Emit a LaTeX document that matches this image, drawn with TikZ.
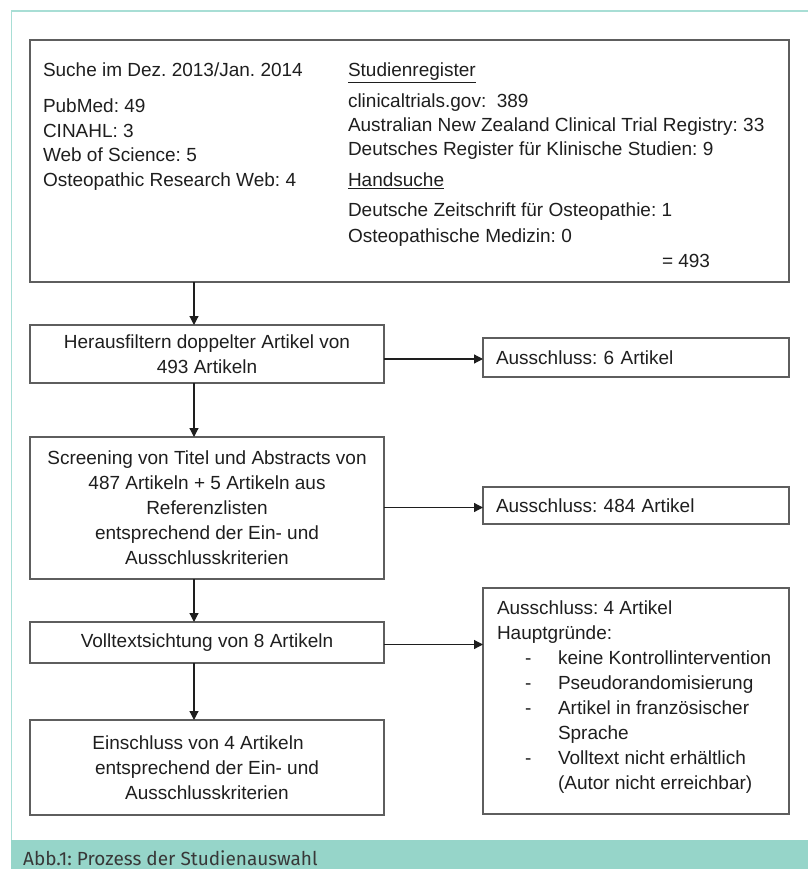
\documentclass[tikz,border=0pt]{standalone}
\usepackage{fontspec}
\setmainfont{Liberation Sans}
\newfontfamily\capfont{Fira Sans}
\usetikzlibrary{arrows.meta}
\definecolor{frameteal}{HTML}{A8DED5}
\definecolor{barteal}{HTML}{96D5C9}
\definecolor{boxgrey}{HTML}{5E5E5E}
\definecolor{txtc}{HTML}{1E1E1E}
\definecolor{captc}{HTML}{383838}
\tikzset{
  box/.style={draw=boxgrey, line width=1.4pt, rectangle, outer sep=0pt, inner sep=0pt,
    anchor=north west, text=txtc, font=\fontsize{19}{25}\selectfont, align=center},
  txt/.style={inner sep=0pt, outer sep=0pt, text=txtc, font=\fontsize{19}{24.5}\selectfont, anchor=base west},
  arr/.style={draw=txtc, line width=1.2pt, -{Triangle[length=9pt,width=9pt]}},
}
\frenchspacing
\begin{document}
\begin{tikzpicture}[x=1pt,y=-1pt]
\useasboundingbox (0,0) rectangle (808,869);
% outer frame and caption bar
\fill[barteal] (11,840) rectangle (808,869);
\draw[frameteal, line width=1.5pt] (808,11) -- (11.5,11) -- (11.5,840);
\node[inner sep=0pt, anchor=base west, text=captc, font=\capfont\fontsize{19}{22}\selectfont] (cap) at (23,865) {Abb.1: Prozess der Studienauswahl};

% search box
\node[box, minimum width=759pt, minimum height=242pt] (search) at (30,40) {};
\node[txt] (s1) at (43,77) {Suche im Dez. 2013/Jan. 2014};
\node[txt] (s2) at (43,112.5) {PubMed: 49};
\node[txt] (s3) at (43,137.2) {CINAHL: 3};
\node[txt] (s4) at (43,161.9) {Web of Science: 5};
\node[txt] (s5) at (43,186.6) {Osteopathic Research Web: 4};
\node[txt] (r1) at (348,77) {\underline{Studienregister}};
\node[txt] (r2) at (348,107.7) {clinicaltrials.gov:\ \ 389};
\node[txt] (r3) at (348,131.7) {Australian New Zealand Clinical Trial Registry: 33};
\node[txt] (r4) at (348,155.7) {Deutsches Register für Klinische Studien: 9};
\node[txt] (r5) at (348,186.7) {\underline{Handsuche}};
\node[txt] (r6) at (348,216.7) {Deutsche Zeitschrift für Osteopathie: 1};
\node[txt] (r7) at (348,242.3) {Osteopathische Medizin: 0};
\node[txt] (r8) at (662,267.3) {= 493};

% flow boxes
\node[box, minimum width=354pt, minimum height=58pt] (dup) at (30,325)
  {Herausfiltern doppelter Artikel von\\493 Artikeln};
\node[box, minimum width=306pt, minimum height=39pt, text width=280pt, align=left] (ex1) at (483,338)
  {Ausschluss: 6 Artikel};
\node[box, minimum width=354pt, minimum height=142pt] (screen) at (30,437)
  {Screening von Titel und Abstracts von\\487 Artikeln + 5 Artikeln aus\\Referenzlisten\\entsprechend der Ein- und\\Ausschlusskriterien};
\node[box, minimum width=306pt, minimum height=37pt, text width=280pt, align=left] (ex2) at (483,487)
  {Ausschluss: 484 Artikel};
\node[box, minimum width=354pt, minimum height=41pt] (full) at (30,622)
  {Volltextsichtung von 8 Artikeln};
\node[box, minimum width=354pt, minimum height=95pt] (incl) at (30,720)
  {Einschluss von 4 Artikeln\hspace*{18pt}\\entsprechend der Ein- und\\Ausschlusskriterien};
\node[box, minimum width=306pt, minimum height=226pt] (ex3) at (483,588) {};
\node[txt] (e1) at (497,614.5) {Ausschluss: 4 Artikel};
\node[txt] (e2) at (497,639.5) {Hauptgründe:};
\node[txt] (d1) at (525,664.5) {-};
\node[txt] (e3) at (558,664.5) {keine Kontrollintervention};
\node[txt] (d2) at (525,689.5) {-};
\node[txt] (e4) at (558,689.5) {Pseudorandomisierung};
\node[txt] (d3) at (525,714.3) {-};
\node[txt] (e5) at (558,714.3) {Artikel in französischer};
\node[txt] (e6) at (558,739.5) {Sprache};
\node[txt] (d4) at (525,764.3) {-};
\node[txt] (e7) at (558,764.3) {Volltext nicht erhältlich};
\node[txt] (e8) at (558,789) {(Autor nicht erreichbar)};

% connectors
\draw[arr] ([xshift=-13pt]dup.north |- search.south) -- ([xshift=-13pt]dup.north);
\draw[arr] ([xshift=-13pt]dup.south) -- ([xshift=-13pt]screen.north);
\draw[arr] ([xshift=-13pt]screen.south) -- ([xshift=-13pt]full.north);
\draw[arr] ([xshift=-13pt]full.south) -- ([xshift=-13pt]incl.north);
\draw[arr] ([yshift=-1.5pt]ex1.west -| dup.east) -- ([yshift=-1.5pt]ex1.west);
\draw[arr] ([yshift=-2pt]ex2.west -| screen.east) -- ([yshift=-2pt]ex2.west);
\draw[arr] ([yshift=-2pt]full.east) -- ([yshift=-2pt]full.east -| ex3.west);
\end{tikzpicture}
\end{document}
